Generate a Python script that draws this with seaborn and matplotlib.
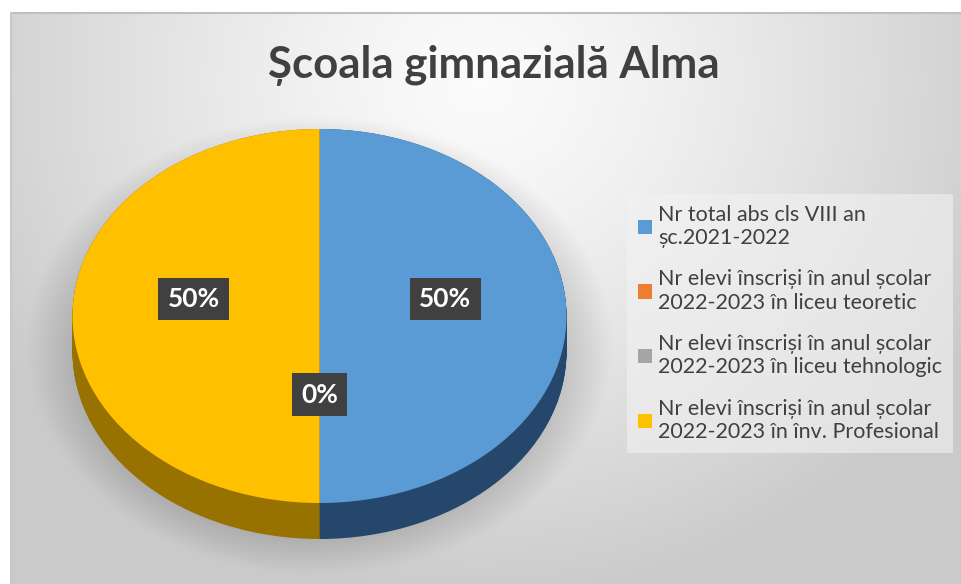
import numpy as np
import seaborn as sns
import matplotlib.pyplot as plt

# data (two equal halves, two empty categories)
categories = [
    "Nr total abs cls VIII an\nșc.2021-2022",
    "Nr elevi înscriși în anul școlar\n2022-2023 în liceu teoretic",
    "Nr elevi înscriși în anul școlar\n2022-2023 în liceu tehnologic",
    "Nr elevi înscriși în anul școlar\n2022-2023 în înv. Profesional",
]
values = [1, 0, 0, 1]
top_colors = ["#5B9BD5", "#ED7D31", "#A5A5A5", "#FFC000"]
side_colors = ["#25476c", "#8a4416", "#5c5c5c", "#987200"]
title = "Școala gimnazială Alma"

sns.set_theme(style="white")
plt.rcParams["font.family"] = ["Lato", "DejaVu Sans"]

W, H = 962, 584
fig = plt.figure(figsize=(W / 100, H / 100), dpi=100)
fig.patch.set_facecolor("white")

# background panel with soft radial gradient and pie shadow
bg = fig.add_axes([10 / W, 0, 952 / W, 572 / H])
bw, bh = 952, 572
yy, xx = np.mgrid[0:bh, 0:bw]
r = np.sqrt(((xx - 470) / 560.0) ** 2 + ((yy - 70) / 520.0) ** 2)
shade = 0.985 - 0.19 * np.clip(r, 0, 1) ** 1.3
# shadow under the pie
sr = np.sqrt(((xx + 10 - 319) / 262.0) ** 2 + ((yy + 12 - 345) / 205.0) ** 2)
shadow = np.clip((1.12 - sr) / 0.2, 0, 1) * 0.14
shade = shade - shadow
img = np.dstack([shade, shade, shade])
bg.imshow(img, extent=[0, bw, bh, 0], aspect="auto", interpolation="bilinear")
bg.set_xlim(0, bw)
bg.set_ylim(bh, 0)
bg.axis("off")
bg.plot([0, bw], [0.5, 0.5], color="#bfbfbf", lw=1.5)
bg.plot([0.5, 0.5], [0, bh], color="#c8c8c8", lw=1.5)

# pie axes: 247 px per unit in x, 187 px per unit in y
sx, sy = 247.0, 187.0
cx, cy = 319.5, H - 316
x0, x1, y0, y1 = -1.05, 1.05, -1.35, 1.05
ax = fig.add_axes([(cx + x0 * sx) / W, (cy + y0 * sy) / H,
                   (x1 - x0) * sx / W, (y1 - y0) * sy / H])
ax.patch.set_alpha(0)

depth = 36 / sy
for d in np.linspace(-depth, 0, 40):
    ax.pie(values, colors=side_colors, startangle=90, counterclock=False,
           center=(0, d), wedgeprops=dict(linewidth=0))

wedges, _, autotexts = ax.pie(
    values, colors=top_colors, startangle=90, counterclock=False,
    autopct=lambda p: f"{p:.0f}%", pctdistance=0.51,
    wedgeprops=dict(linewidth=0),
    textprops=dict(color="white", fontsize=19, fontweight="bold"),
)
for t in autotexts:
    px, py = t.get_position()
    t.set_position((px, py + 0.09))
    t.set_bbox(dict(boxstyle="square,pad=0.35", facecolor="#404040",
                    edgecolor="none"))

ax.set_aspect("auto")
ax.set_xlim(x0, x1)
ax.set_ylim(y0, y1)
ax.axis("off")

fig.text(494 / W, 1 - 66 / H, title, ha="center", va="center",
         fontsize=31.5, fontweight="bold", color="#404040")

leg = fig.legend(wedges, categories, loc="upper left",
                 bbox_to_anchor=(627 / W, 1 - 194 / H),
                 frameon=True, fontsize=15.5, labelcolor="#404040",
                 handlelength=0.65, handleheight=0.65, handletextpad=0.3,
                 labelspacing=1.0, borderpad=0.5, borderaxespad=0,
                 fancybox=False)
leg.get_frame().set_facecolor("#f2f2f2")
leg.get_frame().set_alpha(0.6)
leg.get_frame().set_edgecolor("none")

fig.savefig("out.png", dpi=100)
